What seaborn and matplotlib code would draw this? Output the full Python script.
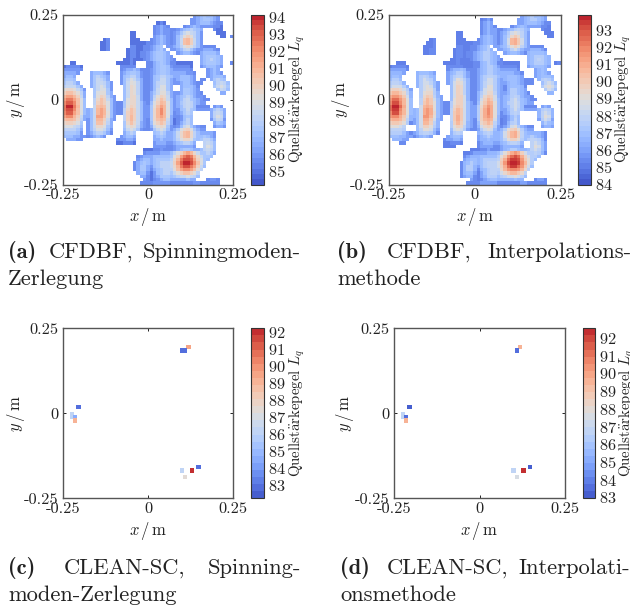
import numpy as np
import pandas as pd
import matplotlib
matplotlib.use("Agg")
import matplotlib.pyplot as plt
from matplotlib.colors import ListedColormap
import seaborn as sns

# 51 x 51 cells, top row is y = +0.25. '.' is below threshold,
# other characters index the level table (dB)
LEVELS = "0123456789abcdefghij"
LEVEL_DB = [85.0, 85.5, 86.0, 86.5, 87.0, 87.5, 88.0, 88.5, 89.0, 89.3,
            89.6, 90.0, 90.5, 91.0, 91.5, 92.0, 92.5, 93.0, 93.5, 94.0]

rows_a = [
    ".......... .......... .......... .........2 3454432... .",
    ".......... .......... .......... ........22 3455432... .",
    ".......... .......... ........01 0.......22 34443211.. .",
    ".......... .......... .......123 21....1234 32222110.. .",
    ".......... .......... .......123 2211234565 43...100.. .",
    ".......... .......... 00.....123 2212357876 42....000. .",
    ".......... .......... 00.....234 3212469b96 42.....00. 1",
    ".......... ..01...... 000...1234 321247cdb7 42........ .",
    ".......... .001...... 0000011234 321247cdb7 42........ .",
    ".......... .001...... 1100112345 .223468a86 421111.... .",
    ".......... .001.....0 1100112345 3.22346753 2233321... .",
    ".......... .........0 1101123455 43..234432 1344443... .",
    ".......... .........0 1101123455 432....... .3455543.. .",
    ".......... ........00 1000123455 4321...... .3456543.. .",
    "..00...... ......0000 10...11345 431100000. .3455543.. 1",
    "011110.... .......111 11...11345 542111110. .2344432.. .",
    "222221.... .......123 3431112345 543222221. ...2343... .",
    "33332...34 4432...234 5542112345 5433333221 ...23432.. .",
    "3443....35 6543...245 6642112456 6543344432 ...234443. .",
    "4554....35 7653...246 8753112457 7532344432 .11.35654. .",
    "56653...35 77642..247 9863112467 7532234432 11...46764 .",
    "677753..35 78742...47 a963112468 853..34443 1....57875 .",
    "9aa9752..5 78852...47 a963112478 853..35543 2.....5764 .",
    "bccb963..5 89953...47 a963113579 9632235543 21.....33. .",
    "deedb73..5 9ba632..47 aa7311369b a732345653 221....... .",
    "eggec84..6 acb742..48 aa731137ac b742346754 3211...... .",
    "fhhfc84..6 bcb8421158 aa742148bd c842356764 322....... .",
    "gjjgd84..7 cdc8421159 ba742259ce d842346764 1111.232.. .",
    "giifc84347 ded842116a cb74225adf d842245754 222235653. .",
    "fhhec84347 ded942116b cb74225adf d84123565. ....36763. .",
    "effdb73347 eec842..6b db74225ade d83112454. ....36873. .",
    "cddca63247 ddb732..6b db74215acd c73012464. ....25762. .",
    "abba85.247 cca63...5a ca732149bc b63013564. .....3543. .",
    "888764.247 aa853...58 a96321379a 9521247853 211..2332. .",
    "666653.246 88742...47 8752112578 742358ab85 322....... .",
    "555542.235 66531...35 65.....456 53347acda6 433332.... .",
    "4443322123 432....234 43.....345 43347acda6 445432.... .",
    ".33322.... ......1223 32.....334 333468aa85 456653.... .",
    ".......... ......0011 10.....233 3223456653 ..6764.... .",
    ".......... .......... .......222 2112333332 ..6874.... .",
    ".......... .......... ....000112 1112345543 346764.... .",
    ".......... .......... ....122223 33468bdeda 755653.... .",
    ".......... .......... ..12333444 4458beghgd a7554..... .",
    ".......... .......... ..23443455 556adgiihe b854...... .",
    ".......... .......... .134543456 667behjjif c85....... .",
    ".......... .......... .135532456 667adgiige b74....... .",
    ".......... .......... .135531345 6669ceffec 96........ .",
    ".......... .......... ..34420245 66579bccb9 6......... .",
    ".......... .......... ...3310235 5545677876 4......... .",
    ".......... .......... ....210123 4433333433 ...1221... .",
    ".......... .......... ...1111222 2211111112 2111111... .",
]

rows_b = [
    ".......... .......... .......... .........2 3454432... .",
    ".......... .......... .......012 1.......22 3455432... .",
    ".......... .......... .......123 2.......22 34443211.. .",
    ".......... .......... .......123 21....1234 32222110.. .",
    ".......... .......... .......123 2211234565 43...100.. .",
    ".......... .......... 00.....123 2212357876 42....000. .",
    ".......... .......... 00.....234 3212469b96 42.....00. .",
    ".......... ..01...... 000...1234 321247cdb7 42........ .",
    ".......... .001...... 0000011234 321247cdb7 42........ .",
    ".......... 0001...... 1100112345 .223468a86 421111.... .",
    ".......... 0011.....0 1100112345 3.22346753 2233321... .",
    ".......... 0011.....0 1101123455 43..234432 1344443... .",
    ".......... .........0 1101123455 432....... .3455543.. .",
    ".......... ........00 1000123455 4321...... .3456543.. .",
    "..000..... ......0000 1000011345 431100000. .3455543.0 1",
    "011110.... .......111 1100011345 542111110. .2344432.. .",
    "222221.... .......123 3431112345 543222221. ...2343... .",
    "33332...34 4432...234 5542112345 5433333221 ...23432.. .",
    "3443....35 6543...245 6642112456 6543344432 ...234443. .",
    "4554....35 7653...246 8753112457 7532344432 111.35654. .",
    "56653...35 77642..247 9863112467 7532234432 111..46764 .",
    "677753..35 78742...47 a963112468 8532134443 1....57875 .",
    "9aa9752..5 78852...47 a963112478 8532135543 2.....5764 .",
    "bccb963..5 89953...47 a963113579 9632235543 21.....33. .",
    "deedb73..5 9ba632..47 aa7311369b a732345653 221....... .",
    "eggec84..6 acb742..48 aa731137ac b742346754 3211...... .",
    "fhhfc84..6 bcb8421158 aa742148bd c842356764 322....... .",
    "gjjgd84..7 cdc8421159 ba742259ce d842346764 1111.232.. .",
    "giifc84347 ded842116a cb74225adf d842245754 222235653. .",
    "fhhec84347 ded942116b cb74225adf d84123565. ....36763. .",
    "effdb73347 eec842..6b db74225ade d83112454. ....36873. .",
    "cddca63247 ddb732..6b db74215acd c73012464. ....25762. .",
    "abba851247 cca63...5a ca732149bc b63013564. .....3543. .",
    "88876...47 aa853...58 a96321379a 9521247853 211..2332. .",
    "66665...46 88742...47 8752112578 742358ab85 322....... .",
    "5555421235 66531...35 65....3456 53347acda6 4333321... .",
    "4443322123 432....234 43....2345 43347acda6 4454321... .",
    ".33322.... ......1223 32....2334 333468aa85 4566531... .",
    "...11..... ......0011 10....1233 3223456653 ..67642... .",
    ".......... ......0000 ......1222 2112333332 ..68742... .",
    ".......... .......... ....000112 1112345543 3467642... .",
    ".......... .......... ..00122223 33468bdeda 7556531... .",
    ".......... .......... ..12333444 4458beghgd a7554..... .",
    ".......... .......... ..23443455 556adgiihe b854...... .",
    ".......... .......... .134543456 667behjjif c85....... .",
    ".......... .......... .135532456 667adgiige b74....... .",
    ".......... .......... .135531345 6669ceffec 96........ .",
    ".......... .......... .134420245 66579bccb9 6......... .",
    ".......... .......... .123310235 5545677876 4......... .",
    ".......... .......... ....210123 4433333433 ...1221... .",
    ".......... .......... ...1111222 2211111112 2111111... .",
]

# source map cells: column, row, level in dB
cols_c = [35, 36, 37, 4, 2, 2, 3, 3, 35, 38, 40, 36]
rows_c = [6, 6, 5, 23, 25, 26, 26, 27, 42, 42, 41, 44]
vals_c = [82.7, 82.7, 89.3, 83.0, 86.3, 86.3, 84.5, 89.2, 86.3, 92.2, 83.0, 87.6]

cols_d = [36, 37, 4, 2, 2, 3, 3, 35, 38, 40, 36]
rows_d = [6, 5, 23, 25, 26, 26, 27, 42, 42, 41, 44]
vals_d = [83.5, 89.5, 83.0, 86.6, 86.6, 83.6, 89.6, 86.6, 92.5, 83.2, 87.6]

range_a = (84.2, 94.15)
range_b = (83.95, 93.93)
range_c = (82.2, 92.2)
range_d = (82.95, 92.55)
ticks_a = list(range(85, 95))
ticks_b = list(range(84, 94))
ticks_c = list(range(83, 93))
ticks_d = list(range(83, 93))
tick_labels = ["-0.25", "0", "0.25"]


def parse_rows(rows):
    grid = np.full((51, 51), np.nan)
    for r, text in enumerate(rows):
        for c, ch in enumerate(text.replace(" ", "")[:51]):
            if ch != ".":
                grid[r, c] = LEVEL_DB[LEVELS.index(ch)]
    return grid


def sparse_grid(cols, rows, vals):
    grid = np.full((51, 51), np.nan)
    for c, r, v in zip(cols, rows, vals):
        grid[r, c] = v
    return grid


W, H = 630, 605
sns.set_theme(style="white")
plt.rcParams["font.family"] = ["cmr10", "DejaVu Serif"]
plt.rcParams["mathtext.fontset"] = "cm"
plt.rcParams["axes.unicode_minus"] = False
plt.rcParams["axes.formatter.use_mathtext"] = True

fig = plt.figure(figsize=(W / 100, H / 100), dpi=100)


def px_axes(x0, x1, y0, y1):
    return fig.add_axes([x0 / W, 1 - y1 / H, (x1 - x0) / W, (y1 - y0) / H])


def panel(grid, box, cbar_x, vrange, ticks, n_colors, ylabel_x, cell_lw=0.0, cbar_pad=1):
    ax = px_axes(box[0], box[1], box[2], box[3])
    cax = px_axes(cbar_x[0], cbar_x[1], box[2], box[3])
    cmap = ListedColormap(sns.color_palette("coolwarm", n_colors))
    sns.heatmap(pd.DataFrame(grid), ax=ax, cbar_ax=cax, cmap=cmap, vmin=vrange[0], vmax=vrange[1],
                xticklabels=False, yticklabels=False, square=False,
                linewidths=cell_lw, linecolor="face", cbar_kws={"ticks": ticks})
    ax.set_xticks([0, 25.5, 51])
    ax.set_xticklabels(tick_labels, fontsize=11.8)
    ax.set_yticks([51, 25.5, 0])
    ax.set_yticklabels(tick_labels, fontsize=11.8, rotation=0)
    ax.tick_params(direction="in", length=2, width=0.7, top=True, right=True, bottom=True, left=True,
                   color="#222222", pad=3, labelcolor="#222222")
    for s in ax.spines.values():
        s.set_visible(True)
        s.set_color("#555555")
        s.set_linewidth(1.0)
    width = box[1] - box[0]
    height = box[3] - box[2]
    ax.set_xlabel(r"$x\,/\,\mathrm{m}$", fontsize=12, color="#222222")
    ax.xaxis.set_label_coords(0.5, -22 / height)
    ax.set_ylabel(r"$y\,/\,\mathrm{m}$", fontsize=12, color="#222222")
    ax.yaxis.set_label_coords((ylabel_x - box[0]) / width, 0.5)
    cbar = ax.collections[0].colorbar
    cbar.outline.set_visible(True)
    cbar.outline.set_edgecolor("#333333")
    cbar.outline.set_linewidth(0.8)
    cbar.ax.tick_params(direction="in", length=2, width=0.6, labelsize=11.8, color="#333333",
                        labelcolor="#222222", pad=3, left=True, right=True)
    cbar.set_label(r"$\mathrm{Quellst\ddot{a}rkepegel}\ L_{q}$", fontsize=10.7, color="#222222", labelpad=cbar_pad)
    return ax


panel(parse_rows(rows_a), (63, 233, 14.5, 184.5), (251, 264), range_a, ticks_a, 32, 27)
panel(parse_rows(rows_b), (389, 560.7, 14.5, 184.5), (578.3, 591), range_b, ticks_b, 32, 352, 0.0, 0)
panel(sparse_grid(cols_c, rows_c, vals_c), (63, 233, 328.3, 498.3), (251, 264), range_c, ticks_c, 24, 27, 0.5)
panel(sparse_grid(cols_d, rows_d, vals_d), (394, 565, 328.3, 498.3), (582.7, 595), range_d, ticks_d, 24, 356, 0.5, 0)

# captions are justified in the source, so each word is placed on its own
captions = [
    (8, 258, "(a)", True), (49, 258, "CFDBF,", False), (143, 258, "Spinningmoden-", False),
    (8, 285, "Zerlegung", False),
    (337, 258, "(b)", True), (387, 258, "CFDBF,", False), (487, 258, "Interpolations-", False),
    (337, 285, "methode", False),
    (8, 574, "(c)", True), (64, 574, "CLEAN-SC,", False), (208, 574, "Spinning-", False),
    (8, 601, "moden-Zerlegung", False),
    (340, 574, "(d)", True), (387, 574, "CLEAN-SC,", False), (518, 574, "Interpolati-", False),
    (340, 601, "onsmethode", False),
]
for x, y, text, bold in captions:
    fig.text(x / W, 1 - y / H, text, fontsize=16.2, color="#222222", va="baseline",
             family="cmb10" if bold else "cmr10")

fig.savefig("out.png", dpi=100)
